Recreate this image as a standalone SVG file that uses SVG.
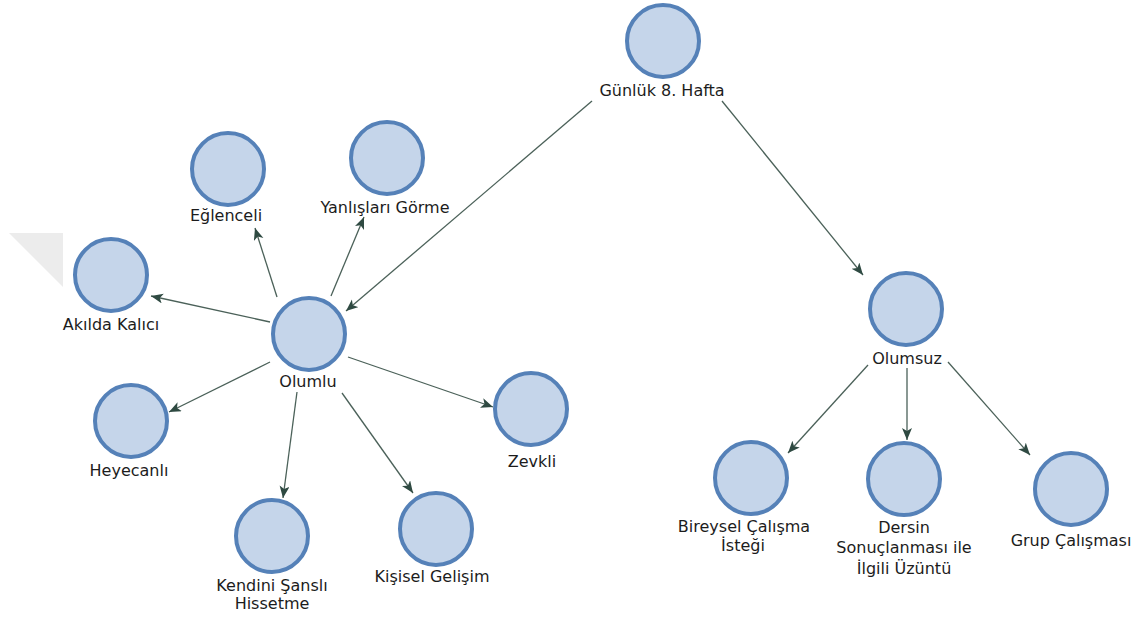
<svg xmlns="http://www.w3.org/2000/svg" width="1143" height="619" viewBox="0 0 1143 619">
  <style>
    .node circle { fill: #c5d5ea; stroke: #5581b8; stroke-width: 4; }
    .node text { font-family: "DejaVu Sans", "Liberation Sans", sans-serif; font-size: 16px; fill: #1c1c1c; text-anchor: middle; }
    .edge { stroke: #4b6159; stroke-width: 1.3; fill: none; marker-end: url(#arrow); }
  </style>
  <defs>
    <marker id="arrow" markerUnits="userSpaceOnUse" markerWidth="14" markerHeight="12" refX="12" refY="5" orient="auto">
      <path d="M0,0 L12,5 L0,10 L3,5 Z" fill="#2f4a42"/>
    </marker>
  </defs>

  <rect width="1143" height="619" fill="#ffffff"/>
  <!-- faint corner mark at the left edge -->
  <polygon points="9,233 63,233 63,287" fill="#ececec"/>

  <g id="connectors">
    <line class="edge" x1="592" y1="101" x2="346" y2="311"/>
    <line class="edge" x1="722" y1="101" x2="863" y2="275"/>
    <line class="edge" x1="277" y1="297" x2="255" y2="228"/>
    <line class="edge" x1="331" y1="296" x2="364" y2="217"/>
    <line class="edge" x1="270" y1="322" x2="151" y2="296"/>
    <line class="edge" x1="270" y1="362" x2="169" y2="412"/>
    <line class="edge" x1="297" y1="392" x2="283" y2="498"/>
    <line class="edge" x1="342" y1="393" x2="413" y2="493"/>
    <line class="edge" x1="348" y1="357" x2="493" y2="407"/>
    <line class="edge" x1="868" y1="365" x2="788" y2="453"/>
    <line class="edge" x1="907" y1="368" x2="907" y2="440"/>
    <line class="edge" x1="948" y1="362" x2="1030" y2="455"/>
  </g>

  <g id="gunluk" class="node">
    <circle cx="663" cy="41" r="36"/>
    <text x="662" y="96">Günlük 8. Hafta</text>
  </g>
  <g id="eglenceli" class="node">
    <circle cx="228" cy="169" r="36"/>
    <text x="226" y="221">Eğlenceli</text>
  </g>
  <g id="yanlislari" class="node">
    <circle cx="387" cy="158" r="36"/>
    <text x="385" y="213">Yanlışları Görme</text>
  </g>
  <g id="akilda" class="node">
    <circle cx="111" cy="275" r="36"/>
    <text x="111" y="330">Akılda Kalıcı</text>
  </g>
  <g id="olumlu" class="node">
    <circle cx="309" cy="334" r="36"/>
    <text x="308" y="387">Olumlu</text>
  </g>
  <g id="heyecanli" class="node">
    <circle cx="131" cy="421" r="36"/>
    <text x="129" y="476">Heyecanlı</text>
  </g>
  <g id="kendini" class="node">
    <circle cx="272" cy="536" r="36"/>
    <text x="272" y="591">Kendini Şanslı</text>
    <text x="272" y="609">Hissetme</text>
  </g>
  <g id="kisisel" class="node">
    <circle cx="436" cy="529" r="36"/>
    <text x="432" y="582">Kişisel Gelişim</text>
  </g>
  <g id="zevkli" class="node">
    <circle cx="531" cy="409" r="36"/>
    <text x="532" y="467">Zevkli</text>
  </g>
  <g id="olumsuz" class="node">
    <circle cx="906" cy="309" r="36"/>
    <text x="907" y="364">Olumsuz</text>
  </g>
  <g id="bireysel" class="node">
    <circle cx="751" cy="478" r="36"/>
    <text x="744" y="532">Bireysel Çalışma</text>
    <text x="743" y="551">İsteği</text>
  </g>
  <g id="dersin" class="node">
    <circle cx="904" cy="479" r="36"/>
    <text x="904" y="533">Dersin</text>
    <text x="904" y="553">Sonuçlanması ile</text>
    <text x="904" y="574">İlgili Üzüntü</text>
  </g>
  <g id="grup" class="node">
    <circle cx="1071" cy="489" r="36"/>
    <text x="1071" y="546">Grup Çalışması</text>
  </g>
</svg>
